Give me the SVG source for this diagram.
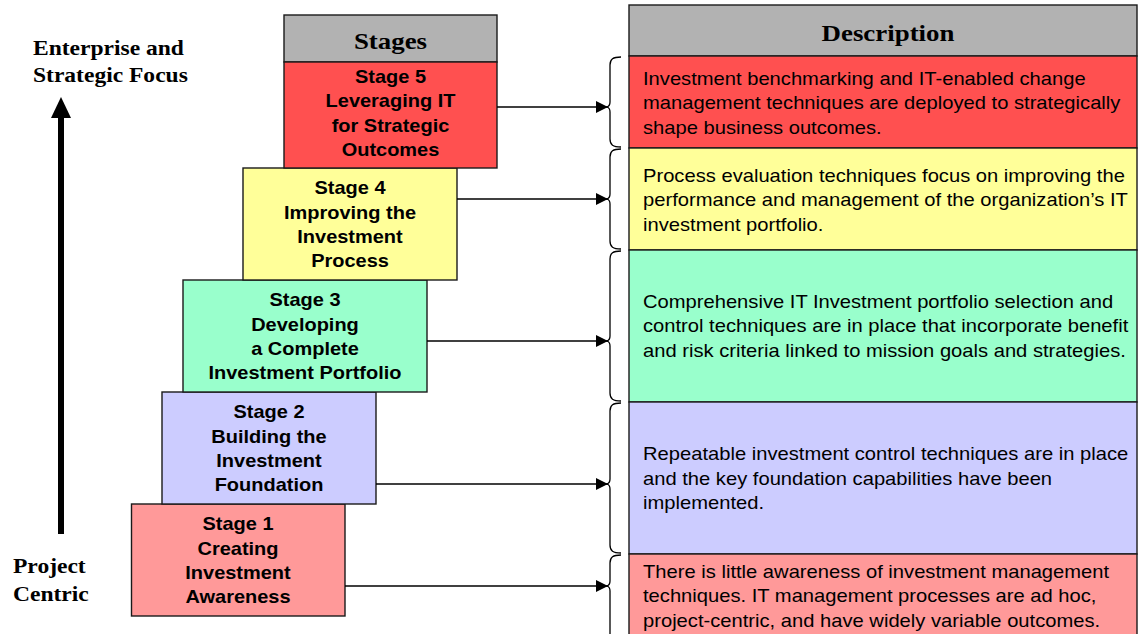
<svg xmlns="http://www.w3.org/2000/svg" width="1138" height="634" viewBox="0 0 1138 634">
<defs>
<style>
.box{stroke:#1a1a1a;stroke-width:1.4}
.hdr{fill:#b2b2b2}
.c5{fill:#ff5050}.c4{fill:#ffff99}.c3{fill:#99ffcc}.c2{fill:#ccccff}.c1{fill:#ff9999}
.st{font-family:"Liberation Sans",Arial,sans-serif;font-weight:bold;font-size:18px;text-anchor:middle;fill:#000}
.ds{font-family:"Liberation Sans",Arial,sans-serif;font-size:18px;fill:#000}
.hd{font-family:"Liberation Serif","Times New Roman",serif;font-weight:bold;font-size:24px;text-anchor:middle;fill:#000}
.sd{font-family:"Liberation Serif","Times New Roman",serif;font-weight:bold;font-size:22px;fill:#000}
.ln{stroke:#000;stroke-width:1.3;fill:none}
.br{stroke:#000;stroke-width:1.3;fill:none}
</style>
<marker id="ah" viewBox="0 0 12 12" refX="12" refY="6" markerWidth="12" markerHeight="12" markerUnits="userSpaceOnUse" orient="auto">
<path d="M0,0 L12,6 L0,12 z" fill="#000"/>
</marker>
</defs>
<rect width="1138" height="634" fill="#fff"/>

<g id="axis">
<line x1="61" y1="534" x2="61" y2="115" stroke="#000" stroke-width="6"/>
<polygon points="51,118 61,97 71,118" fill="#000"/>
<text class="sd" transform="translate(33,0) scale(1.07,1)"><tspan x="0" y="55">Enterprise and</tspan><tspan x="0" y="82">Strategic Focus</tspan></text>
<text class="sd" transform="translate(13,0) scale(1.07,1)"><tspan x="0" y="573">Project</tspan><tspan x="0" y="601">Centric</tspan></text>
</g>

<g id="desc-header">
<rect class="box hdr" x="629" y="5" width="508" height="51"/>
<text class="hd" transform="translate(888,0) scale(1.12,1)"><tspan x="0" y="41">Description</tspan></text>
</g>
<g id="desc5">
<rect class="box c5" x="629" y="56" width="508" height="92"/>
<text class="ds" transform="translate(643,0) scale(1.12,1)"><tspan x="0" y="85">Investment benchmarking and IT-enabled change</tspan><tspan x="0" y="109.3">management techniques are deployed to strategically</tspan><tspan x="0" y="133.6">shape business outcomes.</tspan></text>
</g>
<g id="desc4">
<rect class="box c4" x="629" y="148" width="508" height="102"/>
<text class="ds" transform="translate(643,0) scale(1.12,1)"><tspan x="0" y="182">Process evaluation techniques focus on improving the</tspan><tspan x="0" y="206.3">performance and management of the organization’s IT</tspan><tspan x="0" y="230.6">investment portfolio.</tspan></text>
</g>
<g id="desc3">
<rect class="box c3" x="629" y="250" width="508" height="152"/>
<text class="ds" transform="translate(643,0) scale(1.12,1)"><tspan x="0" y="308">Comprehensive IT Investment portfolio selection and</tspan><tspan x="0" y="332.3">control techniques are in place that incorporate benefit</tspan><tspan x="0" y="356.6">and risk criteria linked to mission goals and strategies.</tspan></text>
</g>
<g id="desc2">
<rect class="box c2" x="629" y="402" width="508" height="152"/>
<text class="ds" transform="translate(643,0) scale(1.12,1)"><tspan x="0" y="460.5">Repeatable investment control techniques are in place</tspan><tspan x="0" y="484.8">and the key foundation capabilities have been</tspan><tspan x="0" y="509.1">implemented.</tspan></text>
</g>
<g id="desc1">
<rect class="box c1" x="629" y="554" width="508" height="90"/>
<text class="ds" transform="translate(643,0) scale(1.12,1)"><tspan x="0" y="578">There is little awareness of investment management</tspan><tspan x="0" y="602.3">techniques. IT management processes are ad hoc,</tspan><tspan x="0" y="626.6">project-centric, and have widely variable outcomes.</tspan></text>
</g>

<g id="stages-header">
<rect class="box hdr" x="284" y="15" width="213" height="47"/>
<text class="hd" transform="translate(390.5,0) scale(1.12,1)"><tspan x="0" y="49">Stages</tspan></text>
</g>
<g id="stage1">
<rect class="box c1" x="131.5" y="504" width="213.5" height="112"/>
<text class="st" transform="translate(238,0) scale(1.11,1)"><tspan x="0" y="530.5">Stage 1</tspan><tspan x="0" y="554.8">Creating</tspan><tspan x="0" y="579.1">Investment</tspan><tspan x="0" y="603.4">Awareness</tspan></text>
</g>
<g id="stage2">
<rect class="box c2" x="162" y="392" width="214" height="112"/>
<text class="st" transform="translate(269,0) scale(1.11,1)"><tspan x="0" y="418.5">Stage 2</tspan><tspan x="0" y="442.8">Building the</tspan><tspan x="0" y="467.1">Investment</tspan><tspan x="0" y="491.4">Foundation</tspan></text>
</g>
<g id="stage3">
<rect class="box c3" x="183" y="280" width="244" height="112"/>
<text class="st" transform="translate(305,0) scale(1.11,1)"><tspan x="0" y="306.5">Stage 3</tspan><tspan x="0" y="330.8">Developing</tspan><tspan x="0" y="355.1">a Complete</tspan><tspan x="0" y="379.4">Investment Portfolio</tspan></text>
</g>
<g id="stage4">
<rect class="box c4" x="243" y="168" width="214" height="112"/>
<text class="st" transform="translate(350,0) scale(1.11,1)"><tspan x="0" y="194.5">Stage 4</tspan><tspan x="0" y="218.8">Improving the</tspan><tspan x="0" y="243.1">Investment</tspan><tspan x="0" y="267.4">Process</tspan></text>
</g>
<g id="stage5">
<rect class="box c5" x="284" y="62" width="213" height="106"/>
<text class="st" transform="translate(390.5,0) scale(1.11,1)"><tspan x="0" y="83">Stage 5</tspan><tspan x="0" y="107.3">Leveraging IT</tspan><tspan x="0" y="131.6">for Strategic</tspan><tspan x="0" y="155.9">Outcomes</tspan></text>
</g>

<g id="connectors">
<line class="ln" x1="497" y1="107" x2="608" y2="107" marker-end="url(#ah)"/>
<line class="ln" x1="457" y1="199" x2="608" y2="199" marker-end="url(#ah)"/>
<line class="ln" x1="427" y1="341" x2="608" y2="341" marker-end="url(#ah)"/>
<line class="ln" x1="376" y1="484" x2="608" y2="484" marker-end="url(#ah)"/>
<line class="ln" x1="345" y1="586" x2="608" y2="586" marker-end="url(#ah)"/>
<path class="br" d="M621,57 C613,57 610,59 610,65 L610,102 Q610,106 607,107 Q610,108 610,112 L610,139 C610,145 613,147 621,147"/>
<path class="br" d="M621,149 C613,149 610,151 610,157 L610,194 Q610,198 607,199 Q610,200 610,204 L610,241 C610,247 613,249 621,249"/>
<path class="br" d="M621,251 C613,251 610,253 610,259 L610,336 Q610,340 607,341 Q610,342 610,346 L610,393 C610,399 613,401 621,401"/>
<path class="br" d="M621,403 C613,403 610,405 610,411 L610,479 Q610,483 607,484 Q610,485 610,489 L610,545 C610,551 613,553 621,553"/>
<path class="br" d="M621,555 C613,555 610,557 610,563 L610,581 Q610,585 607,586 Q610,587 610,591 L610,640"/>
</g>
</svg>
